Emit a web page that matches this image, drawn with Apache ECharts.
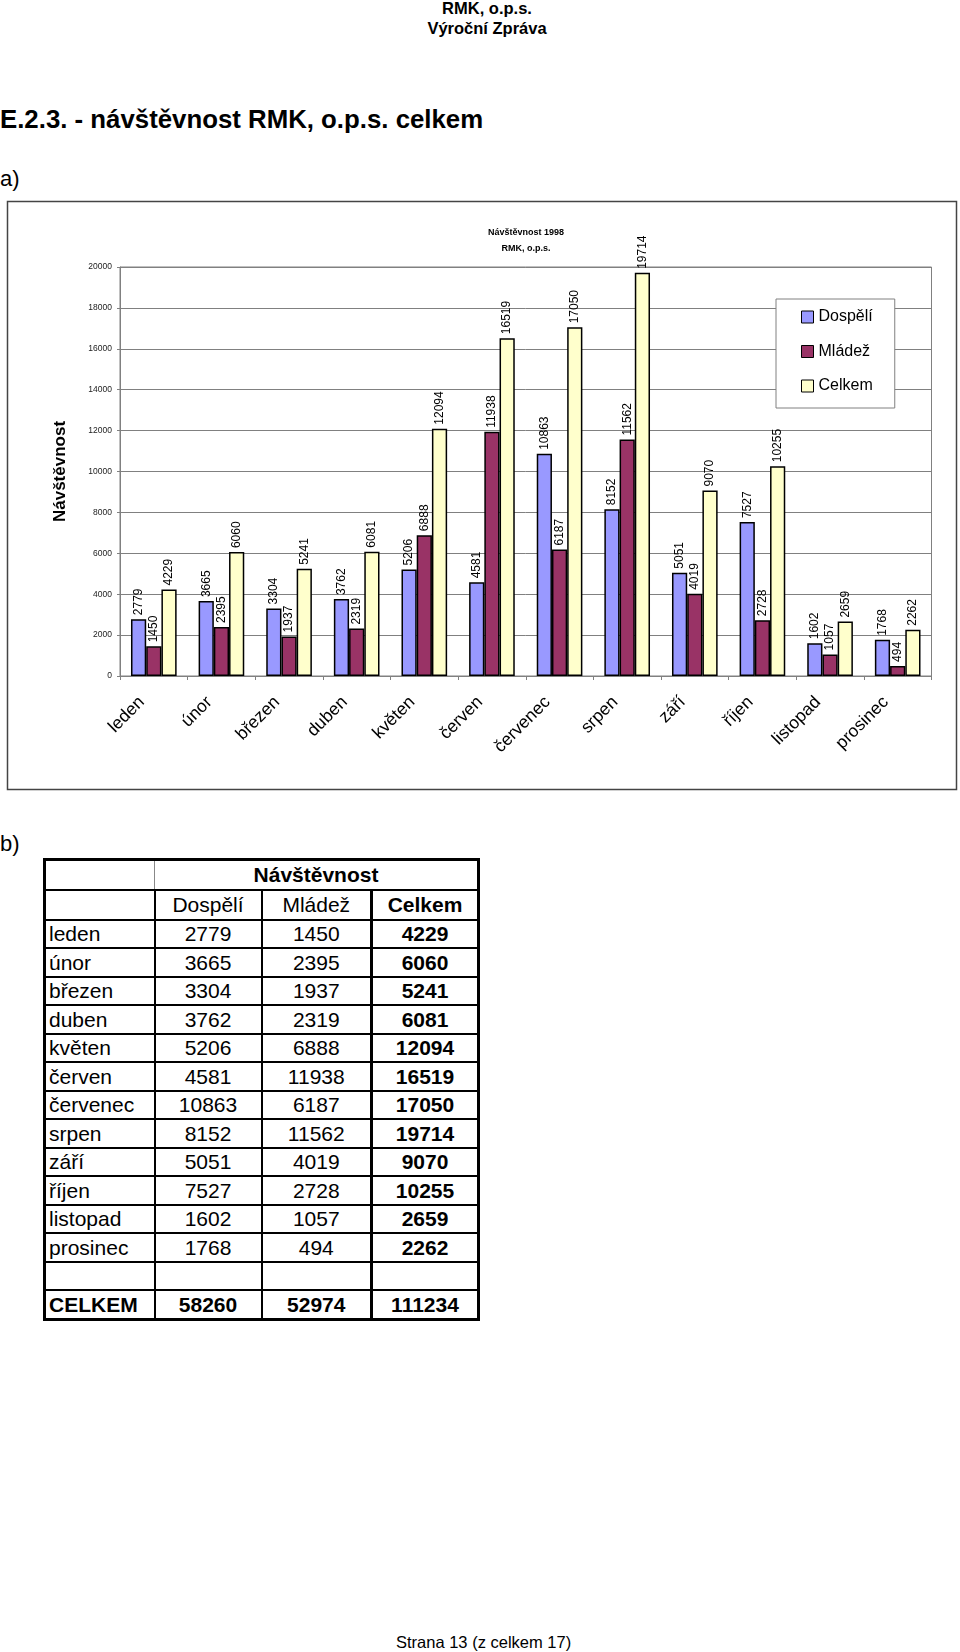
<!DOCTYPE html>
<html><head><meta charset="utf-8">
<script src="https://cdn.jsdelivr.net/npm/echarts@6/dist/echarts.min.js"></script>
<style>
html,body{margin:0;padding:0;background:#fff;}
body{width:960px;height:1652px;position:relative;overflow:hidden;font-family:"Liberation Sans",Arial,Helvetica,sans-serif;color:#000;}
.t{position:absolute;white-space:nowrap;line-height:1;}
#chart{position:absolute;left:0;top:190px;width:960px;height:610px;}
#tbl{position:absolute;left:43px;top:858px;border-collapse:collapse;border:3px solid #000;font-size:21px;table-layout:fixed;width:434px;}
#tbl td{border:2px solid #000;padding:0;text-align:center;line-height:1;white-space:nowrap;}
#tbl td.m{text-align:left;padding-left:3px;}
#tbl td.b{font-weight:bold;}
#tbl td.sep{border-left:3px solid #000;}
#tbl tr.h1 td.e{border-right:1px solid #888;}
#tbl tr.h1 td.hd{border-left:1px solid #888;}
</style>
</head><body>
<div class="t" style="left:0;width:974px;text-align:center;top:-0.5px;font-size:16.5px;font-weight:bold;">RMK, o.p.s.</div>
<div class="t" style="left:0;width:974px;text-align:center;top:19.5px;font-size:16.5px;font-weight:bold;">Výroční Zpráva</div>
<div class="t" style="left:0;top:106.5px;font-size:25.8px;font-weight:bold;">E.2.3. - návštěvnost RMK, o.p.s. celkem</div>
<div class="t" style="left:0;top:168px;font-size:22px;">a)</div>
<div id="chart"></div>
<div class="t" style="left:0;top:833px;font-size:22px;">b)</div>
<table id="tbl"></table>
<div class="t" style="left:396px;top:1634px;font-size:16.5px;">Strana 13 (z celkem 17)</div>
<script>
// ---- data ----
const months = ['leden','únor','březen','duben','květen','červen','červenec','srpen','září','říjen','listopad','prosinec'];
const seriesNames = ['Dospělí','Mládež','Celkem'];
const adults = [2779,3665,3304,3762,5206,4581,10863,8152,5051,7527,1602,1768];
const youth  = [1450,2395,1937,2319,6888,11938,6187,11562,4019,2728,1057,494];
const total  = [4229,6060,5241,6081,12094,16519,17050,19714,9070,10255,2659,2262];
const grandTotals = [58260,52974,111234];
const chartTitle = 'Návštěvnost 1998\nRMK, o.p.s.';
const yName = 'Návštěvnost';
const tableHeader = 'Návštěvnost';
const totalLabel = 'CELKEM';
const colors = ['#9999FF','#993366','#FFFFCC'];

// ---- table ----
(function(){
  const tb = document.getElementById('tbl');
  let h = '<colgroup><col style="width:110px"><col style="width:107px"><col style="width:110px"><col style="width:107px"></colgroup>';
  h += '<tr class="h1" style="height:30px"><td class="e"></td><td class="hd b" colspan="3">'+tableHeader+'</td></tr>';
  h += '<tr style="height:30px"><td></td><td>'+seriesNames[0]+'</td><td>'+seriesNames[1]+'</td><td class="sep b">'+seriesNames[2]+'</td></tr>';
  for (let i=0;i<months.length;i++){
    h += '<tr style="height:28.5px"><td class="m">'+months[i]+'</td><td>'+adults[i]+'</td><td>'+youth[i]+'</td><td class="sep b">'+total[i]+'</td></tr>';
  }
  h += '<tr style="height:28.3px"><td></td><td></td><td></td><td class="sep"></td></tr>';
  h += '<tr style="height:30px"><td class="m b">'+totalLabel+'</td><td class="b">'+grandTotals[0]+'</td><td class="b">'+grandTotals[1]+'</td><td class="sep b">'+grandTotals[2]+'</td></tr>';
  tb.innerHTML = h;
})();

// ---- chart ----
const chart = echarts.init(document.getElementById('chart'), null, {renderer:'canvas'});
const font = '"Liberation Sans", Arial, sans-serif';
const valueSets = [adults, youth, total];
chart.setOption({
  animation:false,
  textStyle:{fontFamily:font},
  graphic:[{type:'rect', shape:{x:7.5,y:11.5,width:949,height:588}, style:{fill:null, stroke:'#444', lineWidth:1.5}, silent:true, z:-1}],
  title:{text:chartTitle, left:526, top:35, textAlign:'center', padding:0,
    textStyle:{fontSize:9, fontWeight:'bold', color:'#000', lineHeight:16, fontFamily:font}},
  legend:{orient:'vertical', left:776, top:109, padding:[10,22,14,25], itemWidth:12, itemHeight:12, itemGap:18.5,
    icon:'rect', borderColor:'#808080', borderWidth:1, backgroundColor:'#fff',
    itemStyle:{borderColor:'#000', borderWidth:1},
    textStyle:{fontSize:16, color:'#000', lineHeight:16, fontFamily:font}, data:seriesNames},
  grid:{left:120, top:77, width:811.5, height:409, show:true, borderColor:'#808080', borderWidth:1, containLabel:false},
  xAxis:{type:'category', data:months, boundaryGap:true,
    axisLine:{lineStyle:{color:'#808080', width:1}},
    axisTick:{show:true, length:4, interval:0, lineStyle:{color:'#808080'}},
    axisLabel:{interval:0, rotate:45, fontSize:17.5, color:'#000', margin:11.5, align:'right', padding:[0,17,0,0], fontFamily:font},
    splitLine:{show:false}},
  yAxis:{type:'value', min:0, max:20000, interval:2000,
    name:yName, nameLocation:'middle', nameRotate:90, nameGap:51,
    nameTextStyle:{fontSize:17, fontWeight:'bold', color:'#000', fontFamily:font},
    axisLine:{show:true, lineStyle:{color:'#808080', width:1}},
    axisTick:{show:true, length:3, lineStyle:{color:'#808080'}},
    axisLabel:{fontSize:8.5, color:'#222', margin:8, fontFamily:font, formatter:(v)=>String(v)},
    splitLine:{lineStyle:{color:'#808080', width:1}}},
  series: seriesNames.map((n,k)=>({
    name:n, type:'bar', data:valueSets[k], barGap:'0%', barCategoryGap:'32.5%',
    itemStyle:{color:colors[k], borderColor:'#000', borderWidth:1.5},
    label:{show:true, position:'top', rotate:90, align:'left', verticalAlign:'middle', distance:4,
      fontSize:12, color:'#000', fontFamily:font}
  }))
});
</script>
</body></html>
